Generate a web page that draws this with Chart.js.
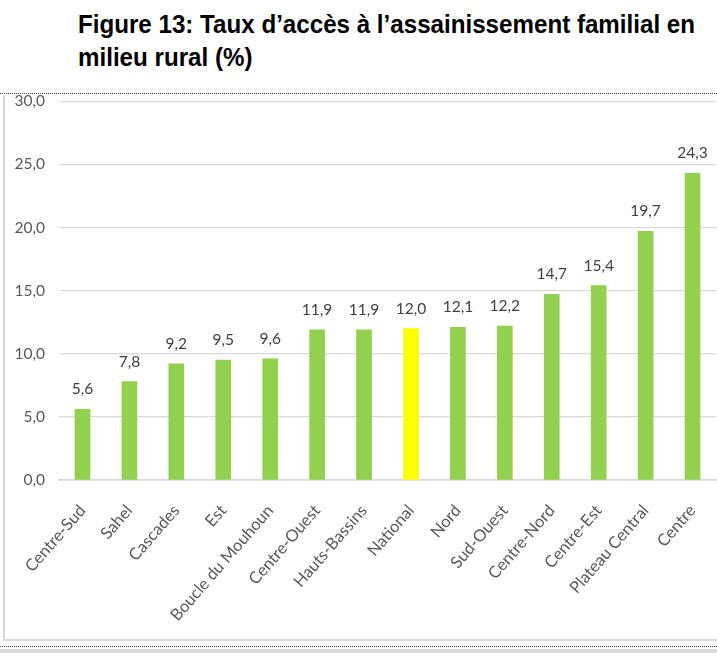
<!DOCTYPE html>
<html>
<head>
<meta charset="utf-8">
<script src="https://cdn.jsdelivr.net/npm/chart.js@4.4.1/dist/chart.umd.min.js"></script>
<style>
  html, body { margin: 0; padding: 0; background: #fff; }
  body { width: 717px; height: 653px; position: relative; overflow: hidden; }
  #header { position: absolute; left: 0; top: 0; width: 717px; height: 93px; background: #fff; z-index: 3;
            border-bottom: 1px dotted #444; }
  #title { position: absolute; left: 78px; top: 8px; font-family: "Liberation Sans", Arial, sans-serif;
           font-weight: bold; font-size: 26.5px; line-height: 33px; color: #000; white-space: nowrap;
           transform-origin: 0 0; }
  #title span { display: inline-block; }
  #box { position: absolute; left: 3px; top: 95px; width: 714px; height: 544px; border-left: 2px solid #d9d9d9; border-bottom: 2px solid #d9d9d9; z-index: 0; }
  #chartwrap { position: absolute; left: 4px; top: 78px; width: 713px; height: 562px; z-index: 1; }
  #dots { position: absolute; left: 0; top: 646px; width: 717px; height: 0; border-top: 1px dotted #444; }
  #band { position: absolute; left: 0; top: 649px; width: 717px; height: 4px; background: #d9d9d9; }
</style>
</head>
<body>
<div id="header"><div id="title"><span id="t1">Figure 13: Taux d’accès à l’assainissement familial en</span><br><span id="t2">milieu rural (%)</span></div></div>
<div id="box"></div>
<div id="chartwrap"><canvas id="c" width="713" height="562"></canvas></div>
<div id="dots"></div>
<div id="band"></div>
<script>
const categories = ["Centre-Sud", "Sahel", "Cascades", "Est", "Boucle du Mouhoun", "Centre-Ouest", "Hauts-Bassins", "National", "Nord", "Sud-Ouest", "Centre-Nord", "Centre-Est", "Plateau Central", "Centre"];
const values = [5.6, 7.8, 9.2, 9.5, 9.6, 11.9, 11.9, 12.0, 12.1, 12.2, 14.7, 15.4, 19.7, 24.3];
const highlight = "National";
const yTicks = [0, 5, 10, 15, 20, 25, 30];

// condense the title to the narrow width of the original
(function () {
  const w = document.getElementById('t1').getBoundingClientRect().width;
  const s = 617 / w;
  document.getElementById('title').style.transform = 'scaleX(' + s + ')';
})();

const GREEN = "#92D050", YELLOW = "#FFFF00";
const FONT = "Lato, 'Open Sans', sans-serif";
const fmt = v => Number(v).toFixed(1).replace('.', ',');

const labelPlugin = {
  id: 'valueLabels',
  afterDatasetsDraw(chart) {
    const ctx = chart.ctx;
    const meta = chart.getDatasetMeta(0);
    ctx.save();
    ctx.font = "15.5px " + FONT;
    ctx.fillStyle = "#404040";
    ctx.textAlign = "center";
    ctx.textBaseline = "alphabetic";
    meta.data.forEach((bar, i) => {
      ctx.fillText(fmt(values[i]), bar.x, bar.y - 15);
    });
    ctx.restore();
  }
};

new Chart(document.getElementById('c'), {
  type: 'bar',
  data: {
    labels: categories,
    datasets: [{
      data: values,
      backgroundColor: categories.map(c => c === highlight ? YELLOW : GREEN),
      borderWidth: 0,
      barThickness: 15
    }]
  },
  options: {
    responsive: false,
    animation: false,
    devicePixelRatio: 1,
    layout: { padding: { top: 16, right: 1, left: 0, bottom: 0 } },
    plugins: { legend: { display: false }, title: { display: false }, tooltip: { enabled: false } },
    scales: {
      x: {
        grid: { display: false, drawTicks: false },
        border: { display: true, color: "#d9d9d9", width: 1.5 },
        ticks: { color: "#595959", font: { family: FONT, size: 16.5 }, minRotation: 49, maxRotation: 49, autoSkip: false, padding: 21 },
        afterFit(scale) { scale.height = 160; scale.paddingRight = 0; scale.paddingLeft = 0; }
      },
      y: {
        min: 0, max: 30,
        afterBuildTicks(scale) { scale.ticks = yTicks.map(v => ({ value: v })); },
        grid: { color: "#d9d9d9", drawTicks: false, lineWidth: 1.2 },
        border: { display: false },
        ticks: { color: "#595959", font: { family: FONT, size: 15.5 }, padding: 14, callback: v => fmt(v) },
        afterFit(scale) { scale.width = 55; }
      }
    }
  },
  plugins: [labelPlugin]
});
</script>
</body>
</html>
